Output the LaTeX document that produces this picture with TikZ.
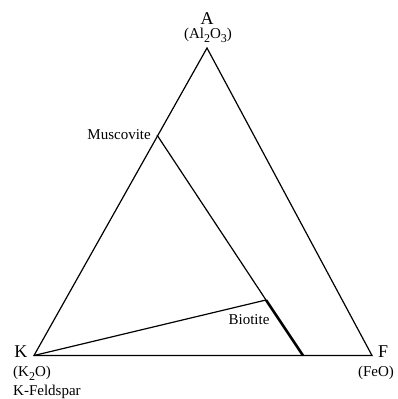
\documentclass[tikz,border=0pt]{standalone}
\usepackage{fontspec}
\setmainfont{Liberation Serif}
\usepackage{tikz}
\usetikzlibrary{positioning, calc}
\newcommand{\sub}[1]{\raisebox{-0.65ex}{\fontsize{12}{12}\selectfont #1}}
\tikzstyle{corner} = [font=\fontsize{18}{20}\selectfont, inner sep=0pt]
\tikzstyle{oxide} = [font=\fontsize{15}{17}\selectfont, inner sep=0pt]
\tikzstyle{mineral} = [font=\fontsize{15}{17}\selectfont, inner sep=0pt]
\tikzstyle{edge} = [line width=1.2pt, line join=miter]
\tikzstyle{solution} = [line width=2.6pt]

\begin{document}
\begin{tikzpicture}[x=1pt, y=-1pt]
    \useasboundingbox (0,0) rectangle (397,399);
    % corners of the triangle
    \coordinate (K) at (34,355.5);
    \coordinate (A) at (207,48);
    \coordinate (F) at (372,355.5);
    % phases
    \coordinate (mus) at (157,135);
    \coordinate (bio) at (266,300);
    \coordinate (fe) at (303,355.5);

    \draw [edge] (K) -- (A) -- (F) -- cycle;
    \draw [edge] (mus) -- (bio);
    \draw [edge] (K) -- (bio);
    \draw [solution] (bio) -- (fe);

    \node (lA) [corner, anchor=base] at (207,24) {A};
    \node (oA) [oxide, anchor=base] at (208,38) {(Al\sub{2}O\sub{3})};
    \node (lK) [corner, anchor=base east] at (27.5,357) {K};
    \node (oK) [oxide, anchor=base west] at (13,376) {(K\sub{2}O)};
    \node (kfs) [mineral, anchor=base west] at (13,395) {K-Feldspar};
    \node (lF) [corner, anchor=base west] at (378,357) {F};
    \node (oF) [oxide, anchor=base] at (376,376) {(FeO)};
    \node (lmus) [mineral, anchor=base east] at (151,139) {Muscovite};
    \node (lbio) [mineral, anchor=base] at (249,324) {Biotite};
\end{tikzpicture}
\end{document}
